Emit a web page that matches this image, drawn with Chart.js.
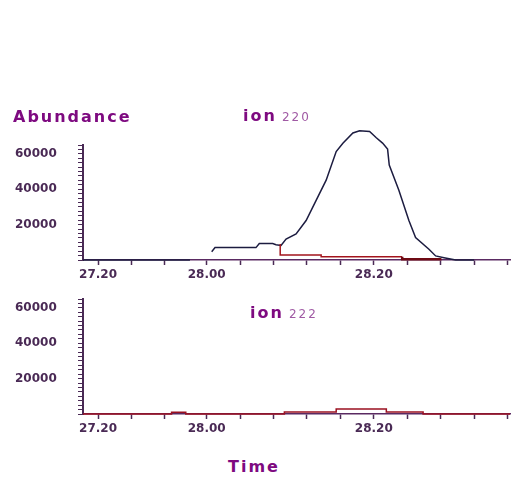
<!DOCTYPE html>
<html>
<head>
<meta charset="utf-8">
<script src="https://cdn.jsdelivr.net/npm/chart.js@4/dist/chart.umd.min.js"></script>
<style>
  body { margin: 0; background: #fff; }
  #wrap { position: relative; width: 518px; height: 483px; overflow: hidden; }
  canvas { position: absolute; left: 0; }
  .lbl { position: absolute; font-family: "DejaVu Sans", sans-serif; line-height: 16px; white-space: nowrap; color: #7e0a80; }
  .big { font-size: 16px; font-weight: bold; letter-spacing: 2px; }
  .small { font-size: 12px; letter-spacing: 2px; color: #a05aa4; }
</style>
</head>
<body>
<div id="wrap">
  <canvas id="topChart" width="518" height="290" style="top:0"></canvas>
  <canvas id="bottomChart" width="518" height="174" style="top:270px"></canvas>
  <div class="lbl big" style="left:13px; top:109px">Abundance</div>
  <div class="lbl" style="left:243px; top:108px"><span class="big">ion</span> <span class="small">220</span></div>
  <div class="lbl" style="left:250px; top:305px"><span class="big">ion</span> <span class="small">222</span></div>
  <div class="lbl big" style="left:228px; top:459px">Time</div>
</div>
<script>
// ===== DATA =====
const xTicks = [27.87, 27.91, 27.95, 28.00, 28.04, 28.08, 28.12, 28.16, 28.20, 28.24, 28.28, 28.32, 28.36];
const xTickLabels = ["27.20", "", "", "28.00", "", "", "", "", "28.20", "", "", "", ""];
const yLabelled = [20000, 40000, 60000];

// ion 220 trace (null = break in the trace)
const ion220Time = [27.852, 27.98, 27.99, 28.006, 28.010, 28.059, 28.063, 28.079, 28.083, 28.089, 28.095, 28.107,
  28.119, 28.131, 28.143, 28.155, 28.163, 28.175, 28.183, 28.195, 28.203, 28.2105, 28.2165, 28.2185, 28.230,
  28.242, 28.250, 28.266, 28.274, 28.284, 28.298, 28.32];
const ion220Abund = [0, 0, null, 4700, 7000, 7000, 9300, 9300, 8600, 8200, 11800, 14700,
  22300, 33700, 45100, 61300, 66000, 71800, 73100, 72700, 69100, 66100, 62700, 53700, 39400,
  22300, 12700, 6100, 2300, 1300, 0, 0];

// integration baseline under the ion 220 peak
const baseTime = [28.088, 28.137, 28.234, 28.281];
const baseAbund = [9100, 2860, 1890, 400];

// ion 222 trace
const ion222Time = [27.852, 27.958, 27.975, 28.093, 28.155, 28.215, 28.259, 28.363];
const ion222Abund = [0, 1000, 0, 1200, 2800, 1200, 0, 0];

// ===== SHARED AXIS STYLE =====
const axisInk = "#4a2a55";
const tickFont = { family: "DejaVu Sans", size: 12, weight: "bold" };

function points(xs, ys) {
  return xs.map((x, i) => ({ x: x, y: ys[i] }));
}

function buildScales() {
  return {
    x: {
      type: "linear",
      min: 27.852,
      max: 28.363,
      afterBuildTicks: scale => { scale.ticks = xTicks.map(v => ({ value: v })); },
      afterFit: scale => { scale.height = 30; },
      border: { color: "#5a2a62", width: 1.5 },
      grid: { drawOnChartArea: false, tickLength: 5, tickWidth: 1.5, tickColor: axisInk },
      ticks: {
        autoSkip: false, maxRotation: 0, padding: 3, color: axisInk, font: tickFont,
        callback: (v, i) => xTickLabels[i]
      }
    },
    y: {
      min: 0,
      max: 65000,
      // labels sit flush with the left edge of the axis box
      afterFit: scale => { scale.width = 68; },
      border: { color: axisInk, width: 2 },
      grid: { drawOnChartArea: false, tickLength: 5, tickWidth: 1, tickColor: axisInk },
      ticks: {
        stepSize: 2500, autoSkip: false, crossAlign: "far", color: axisInk, font: tickFont,
        callback: v => yLabelled.includes(v) ? String(v) : ""
      }
    }
  };
}

const commonOptions = (padTop) => ({
  responsive: false,
  animation: false,
  devicePixelRatio: 1,
  layout: { padding: { top: padTop, right: 8, left: 15, bottom: 0 } },
  plugins: { legend: { display: false }, tooltip: { enabled: false } },
  elements: { point: { radius: 0 }, line: { tension: 0 } },
  scales: buildScales()
});

// ===== ion 220 =====
new Chart(document.getElementById("topChart"), {
  type: "line",
  data: {
    datasets: [
      {
        data: points(baseTime, baseAbund),
        stepped: "after",
        borderColor: "#a3141c",
        borderWidth: 1.5,
        segment: {
          borderColor: c => c.p1DataIndex === 3 ? "#6e0a14" : "#a3141c",
          borderWidth: c => c.p1DataIndex === 3 ? 2.5 : 1.5
        },
        clip: false
      },
      {
        data: points(ion220Time, ion220Abund),
        borderColor: "#1c1c40",
        borderWidth: 1.5,
        spanGaps: false,
        clip: false
      }
    ]
  },
  options: commonOptions(145)
});

// ===== ion 222 =====
new Chart(document.getElementById("bottomChart"), {
  type: "line",
  data: {
    datasets: [
      {
        data: points(ion222Time, ion222Abund),
        stepped: "before",
        borderColor: "#9a1020",
        borderWidth: 1.5,
        clip: false
      }
    ]
  },
  options: commonOptions(29)
});
</script>
</body>
</html>
